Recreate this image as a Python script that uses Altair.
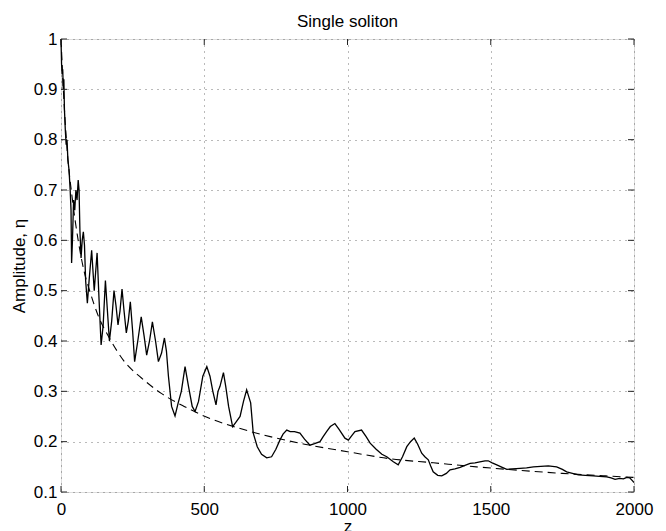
import altair as alt
import pandas as pd

# Solid curve: simulated soliton amplitude
z_solid = [0, 2, 4, 6, 8, 10, 12, 15, 18, 21, 24, 28, 32, 35, 37, 40, 44, 48, 52, 56, 60, 63, 66, 70, 74, 78, 82, 86, 92, 98,
           107, 116, 126, 133, 140, 147, 155, 162, 169, 177, 185, 192, 199, 206, 213, 220, 228, 235, 242, 250,
           257, 268, 280, 290, 299, 309, 319, 330, 340, 351, 361, 368, 375, 386, 398, 409, 420, 433, 445, 458,
           468, 480, 495, 509, 520, 530, 541, 548, 555, 567, 575, 585, 599, 612, 625, 637, 648, 655, 662, 671,
           685, 700, 718, 735, 750, 764, 775, 788, 800, 815, 834, 850, 869, 885, 904, 915, 927, 940, 956, 970,
           991, 1003, 1015, 1026, 1049, 1065, 1079, 1100, 1120, 1137, 1160, 1177, 1192, 1207, 1220, 1233, 1245,
           1259, 1270, 1282, 1290, 1299, 1315, 1329, 1345, 1358, 1375, 1393, 1410, 1428, 1445, 1462, 1480, 1491,
           1505, 1521, 1540, 1556, 1575, 1602, 1625, 1649, 1675, 1701, 1715, 1730, 1750, 1765, 1785, 1806, 1830,
           1858, 1880, 1905, 1920, 1934, 1950, 1963, 1975, 1985, 1995, 2000]
eta_solid = [1.0, 0.95, 0.93, 0.94, 0.90, 0.92, 0.86, 0.82, 0.79, 0.80, 0.76, 0.74, 0.70, 0.66, 0.555, 0.60, 0.68, 0.66, 0.70, 0.68,
             0.72, 0.70, 0.62, 0.565, 0.60, 0.617, 0.59, 0.52, 0.475, 0.52,
             0.58, 0.50, 0.575, 0.48, 0.392, 0.43, 0.52, 0.46, 0.40, 0.44, 0.50, 0.47, 0.432, 0.46, 0.503, 0.46, 0.416, 0.44, 0.478, 0.42,
             0.359, 0.40, 0.448, 0.41, 0.372, 0.40, 0.438, 0.40, 0.359, 0.376, 0.406, 0.38, 0.33, 0.27, 0.251, 0.277, 0.30, 0.349, 0.31, 0.27,
             0.26, 0.28, 0.33, 0.349, 0.33, 0.30, 0.273, 0.30, 0.31, 0.337, 0.31, 0.27, 0.23, 0.24, 0.25, 0.28, 0.303, 0.29, 0.277, 0.217,
             0.19, 0.175, 0.168, 0.17, 0.185, 0.203, 0.215, 0.223, 0.22, 0.22, 0.217, 0.205, 0.193, 0.196, 0.20, 0.21, 0.22, 0.23, 0.236, 0.225,
             0.207, 0.203, 0.212, 0.22, 0.223, 0.21, 0.197, 0.185, 0.175, 0.17, 0.16, 0.154, 0.17, 0.19, 0.20, 0.207, 0.195,
             0.177, 0.17, 0.164, 0.152, 0.14, 0.133, 0.132, 0.137, 0.144, 0.146, 0.149, 0.153, 0.157, 0.158, 0.16, 0.162, 0.162,
             0.158, 0.154, 0.149, 0.145, 0.146, 0.147, 0.148, 0.15, 0.151, 0.152, 0.151, 0.15, 0.145, 0.14, 0.137, 0.134, 0.133,
             0.132, 0.131, 0.13, 0.128, 0.125, 0.127, 0.126, 0.129, 0.128, 0.122, 0.119]

# Dashed curve: averaged / theoretical decay
z_dash = [0, 10, 20, 40, 60, 80, 100, 130, 170, 220, 280, 350, 430, 520, 620, 730, 850, 1000, 1150, 1300, 1450, 1600, 1750, 1900, 2000]
eta_dash = [1.0, 0.88, 0.79, 0.68, 0.60, 0.54, 0.50, 0.45, 0.405, 0.36, 0.327, 0.296, 0.27, 0.246, 0.227, 0.21, 0.195, 0.18,
            0.166, 0.158, 0.15, 0.143, 0.137, 0.132, 0.129]

x_ticks = [0, 500, 1000, 1500, 2000]
y_ticks = [0.1, 0.2, 0.3, 0.4, 0.5, 0.6, 0.7, 0.8, 0.9, 1.0]

W, H = 573, 453
FONT = "Liberation Sans"

solid_df = pd.DataFrame({"z": z_solid, "eta": eta_solid})
dash_df = pd.DataFrame({"z": z_dash, "eta": eta_dash})
xt_df = pd.DataFrame({"z": x_ticks})
yt_df = pd.DataFrame({"eta": y_ticks})

xscale = alt.Scale(domain=[0, 2000], nice=False, zero=False)
yscale = alt.Scale(domain=[0.1, 1.0], nice=False, zero=False)

xaxis = alt.Axis(values=x_ticks, format="d", title="z", grid=True, gridDash=[1, 5], gridColor="#666666",
                 gridOpacity=0.9, ticks=False, domain=False, labelFont=FONT, labelFontSize=17, labelColor="#000",
                 labelPadding=9, labelFlush=False, titleFont=FONT, titleFontSize=17, titleFontWeight="normal",
                 titleColor="#000", titlePadding=1)
yaxis = alt.Axis(values=y_ticks, format=".1~f", title="Amplitude, η", grid=True, gridDash=[1, 5],
                 gridColor="#666666", gridOpacity=0.9, ticks=False, domain=False, labelFont=FONT, labelFontSize=17,
                 labelColor="#000", labelPadding=4, labelFlush=False, titleFont=FONT, titleFontSize=17,
                 titleFontWeight="normal", titleColor="#000", titlePadding=5)

solid = alt.Chart(solid_df).mark_line(color="black", strokeWidth=1.3).encode(
    x=alt.X("z:Q", scale=xscale, axis=xaxis),
    y=alt.Y("eta:Q", scale=yscale, axis=yaxis),
)
dashed = alt.Chart(dash_df).mark_line(color="black", strokeWidth=1.1, strokeDash=[8, 5], interpolate="monotone").encode(
    x=alt.X("z:Q", scale=xscale),
    y=alt.Y("eta:Q", scale=yscale),
)

tick_col = "#222222"
left_ticks = alt.Chart(yt_df).mark_rule(color=tick_col, strokeWidth=1).encode(
    y=alt.Y("eta:Q", scale=yscale), x=alt.value(0), x2=alt.value(6))
right_ticks = alt.Chart(yt_df).mark_rule(color=tick_col, strokeWidth=1).encode(
    y=alt.Y("eta:Q", scale=yscale), x=alt.value(W - 6), x2=alt.value(W))
bottom_ticks = alt.Chart(xt_df).mark_rule(color=tick_col, strokeWidth=1).encode(
    x=alt.X("z:Q", scale=xscale), y=alt.value(H - 6), y2=alt.value(H))
top_ticks = alt.Chart(xt_df).mark_rule(color=tick_col, strokeWidth=1).encode(
    x=alt.X("z:Q", scale=xscale), y=alt.value(0), y2=alt.value(6))

chart = alt.layer(dashed, solid, left_ticks, right_ticks, bottom_ticks, top_ticks).properties(
    width=W, height=H,
    title=alt.TitleParams("Single soliton", font=FONT, fontSize=17, fontWeight="normal", color="#000", offset=-1),
    autosize=alt.AutoSizeParams(type="none"),
    padding={"left": 53, "top": 31, "right": 24, "bottom": 40},
).configure_view(stroke="#333333", strokeWidth=1.2).configure(background="white")

chart.save("out.html", embed_options={"renderer": "svg", "actions": False})
